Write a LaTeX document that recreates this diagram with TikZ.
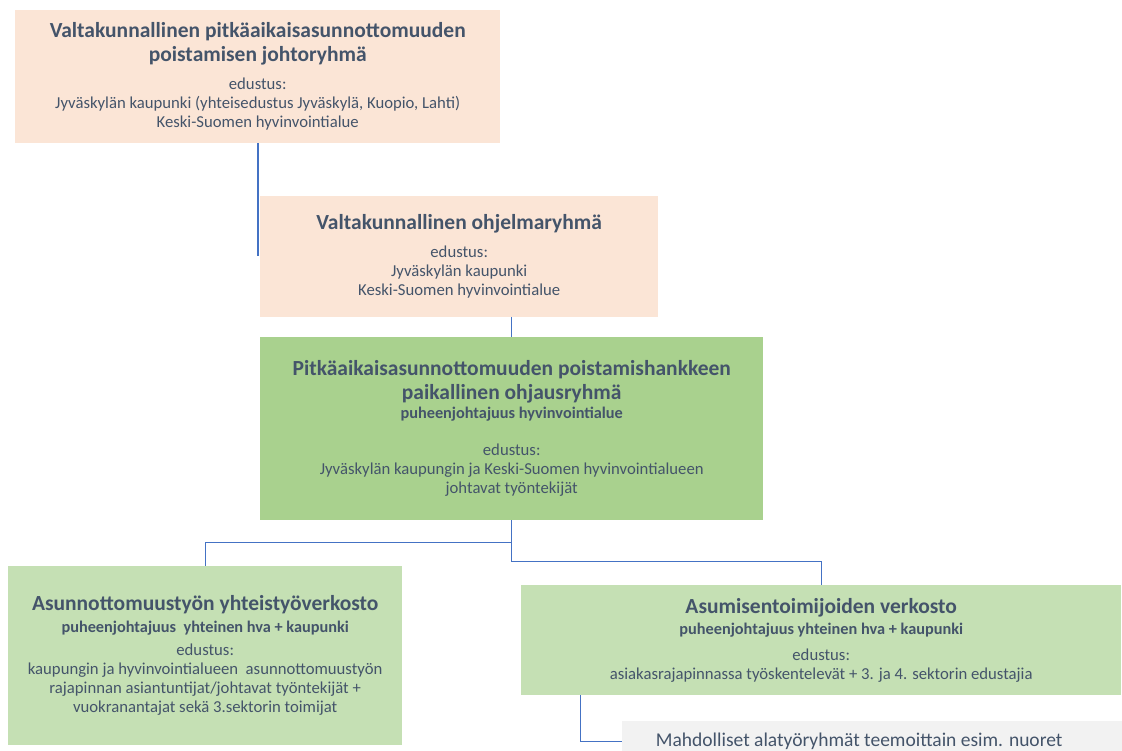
\documentclass[tikz,border=0pt]{standalone}
\usepackage{fontspec}
\setmainfont{Carlito}
\usetikzlibrary{positioning}

\definecolor{peach}{HTML}{FBE5D6}
\definecolor{midgreen}{HTML}{A9D18E}
\definecolor{palegreen}{HTML}{C5E0B4}
\definecolor{palegray}{HTML}{F2F2F2}
\definecolor{linkblue}{HTML}{4472C4}
\definecolor{slatetext}{HTML}{44546A}

\newcommand{\bodyfont}{\fontsize{16.7}{19}\selectfont\lineskiplimit=-100pt\relax}
\newcommand{\boxtitle}{\fontsize{21.5}{24}\selectfont\bfseries}
\newcommand{\boxsub}{\fontsize{16.3}{19}\selectfont\bfseries}

\begin{document}
\begin{tikzpicture}[
    x=1pt, y=-1pt,
    font=\bodyfont,
    every node/.style={text=slatetext},
    peachbox/.style={rectangle, fill=peach, inner sep=0pt, align=center},
    greenbox/.style={rectangle, fill=midgreen, inner sep=0pt, align=center},
    lightbox/.style={rectangle, fill=palegreen, inner sep=0pt, align=center},
    graybox/.style={rectangle, fill=palegray, inner sep=0pt, font=\fontsize{19.5}{22}\selectfont},
    conn/.style={draw=linkblue, line width=1.3pt}
]
\useasboundingbox (0,0) rectangle (1122,751);

% --- Valtakunnan taso ---
\node[peachbox, minimum width=485pt, minimum height=133pt, anchor=north west] (johto) at (15,10)
    {\boxtitle Valtakunnallinen pitkäaikaisasunnottomuuden\\[5pt]
     \boxtitle poistamisen johtoryhmä\\[9pt]
     edustus:\\
     Jyväskylän kaupunki (yhteisedustus Jyväskylä, Kuopio, Lahti)\\
     Keski-Suomen hyvinvointialue};
\node[peachbox, minimum width=398pt, minimum height=121pt, below right=52pt and 245pt of johto.south west] (ohjelma)
    {\boxtitle Valtakunnallinen ohjelmaryhmä\\[9pt]
     edustus:\\
     Jyväskylän kaupunki\\
     Keski-Suomen hyvinvointialue};

% --- Paikallinen ohjausryhmä ---
\node[greenbox, minimum width=503pt, minimum height=183pt, below right=20pt and 0pt of ohjelma.south west] (ohjaus)
    {\boxtitle Pitkäaikaisasunnottomuuden poistamishankkeen\\[5pt]
     \boxtitle paikallinen ohjausryhmä\\
     \boxsub puheenjohtajuus hyvinvointialue\\[18pt]
     edustus:\\
     Jyväskylän kaupungin ja Keski-Suomen hyvinvointialueen\\
     johtavat työntekijät};

% --- Verkostot ---
\node[lightbox, minimum width=394pt, minimum height=179pt, anchor=north west] (verkosto) at (8,566)
    {\boxtitle Asunnottomuustyön yhteistyöverkosto\\[3pt]
     \boxsub puheenjohtajuus\ \ yhteinen hva + kaupunki\\[4pt]
     edustus:\\
     kaupungin ja hyvinvointialueen\ \ asunnottomuustyön\\
     rajapinnan asiantuntijat/johtavat työntekijät +\\
     vuokranantajat sekä 3.sektorin toimijat};
\node[lightbox, minimum width=600pt, minimum height=110pt, anchor=north west] (asuminen) at (521,585)
    {\boxtitle Asumisentoimijoiden verkosto\\[2pt]
     \boxsub puheenjohtajuus yhteinen hva + kaupunki\\[7pt]
     edustus:\\
     asiakasrajapinnassa työskentelevät + 3. ja 4. sektorin edustajia};
\node[graybox, minimum width=500pt, minimum height=42pt, below right=25pt and 101pt of asuminen.south west] (alaryhmat)
    {Mahdolliset alatyöryhmät teemoittain esim. nuoret\kern26pt};

% --- Yhteydet ---
\coordinate (reuna) at ([xshift=-2pt]ohjelma.west);
\draw[conn] (johto.south -| reuna) -- (reuna);
\draw[conn] (ohjelma.south -| ohjaus.north) -- (ohjaus.north);
\draw[conn] (ohjaus.south) -- ++(0,22) -| (verkosto.north);
\draw[conn] (ohjaus.south) -- ++(0,41) -| (asuminen.north);
\draw[conn] ([xshift=-241pt]asuminen.south) |- (alaryhmat.west);

\end{tikzpicture}
\end{document}
